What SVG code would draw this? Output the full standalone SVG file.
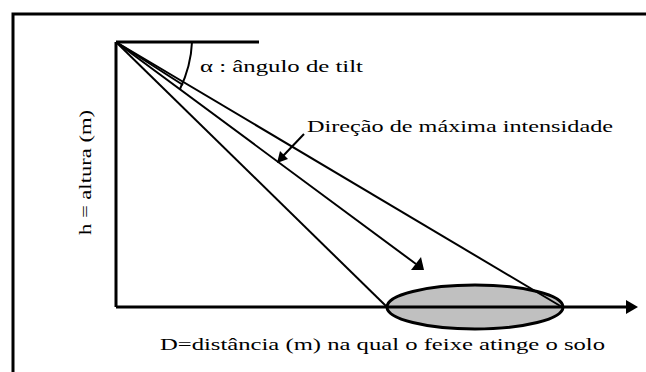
<svg xmlns="http://www.w3.org/2000/svg" width="646" height="372" viewBox="0 0 646 372">
<defs>
<style>
.t{font-family:"Liberation Serif","DejaVu Serif",serif;font-size:16px;fill:#000}
.th{stroke:#000;stroke-width:3;fill:none}
.ln{stroke:#000;stroke-width:2;fill:none}
</style>
</defs>
<rect width="646" height="372" fill="#fff"/>
<g id="frame">
<path class="th" d="M13,372 V14 H646"/>
</g>
<g id="footprint">
<ellipse cx="475" cy="307" rx="88" ry="22" fill="#c0c0c0" stroke="#000" stroke-width="3"/>
</g>
<g id="connectors">
<path class="th" d="M116,42 H259"/>
<path class="th" d="M116,42 V307"/>
<line class="th" x1="116" y1="307" x2="628" y2="307"/>
<path d="M626,300 L638,307 L626,314 z" fill="#000"/>
<line class="ln" x1="116" y1="42" x2="387" y2="307"/>
<line class="ln" x1="116" y1="42" x2="562" y2="307"/>
<line class="ln" x1="116" y1="42" x2="183" y2="85"/>
<line class="ln" x1="116" y1="42" x2="416" y2="264"/>
<path d="M411,270 L424,270 L421,257 z" fill="#000"/>
<path class="ln" d="M192,42 Q191,66 180,89"/>
<line class="ln" x1="304" y1="134" x2="283" y2="156"/>
<path d="M277,163 L280,151 L288,159 z" fill="#000"/>
</g>
<g id="labels">
<text class="t" x="200" y="72" textLength="163" lengthAdjust="spacingAndGlyphs">α : ângulo de tilt</text>
<text class="t" x="307" y="132" textLength="306" lengthAdjust="spacingAndGlyphs">Direção de máxima intensidade</text>
<text class="t" x="160" y="350" textLength="445" lengthAdjust="spacingAndGlyphs">D=distância (m) na qual o feixe atinge o solo</text>
<text class="t" transform="translate(91,235) rotate(-90)" textLength="125" lengthAdjust="spacingAndGlyphs">h = altura (m)</text>
</g>
</svg>
